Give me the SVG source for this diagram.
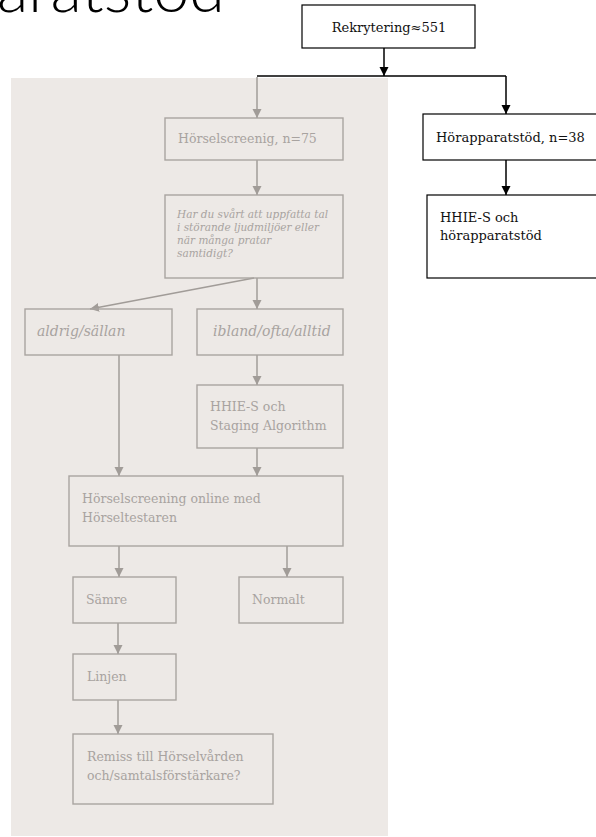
<svg xmlns="http://www.w3.org/2000/svg" width="596" height="837" viewBox="0 0 596 837">
<style>
.bb{fill:#fff;stroke:#000;stroke-width:1.2}
.gb{fill:none;stroke:#a9a4a0;stroke-width:1.4}
.bt{font-family:"DejaVu Serif","Liberation Serif",serif;font-size:13px;fill:#111}
.gt{font-family:"DejaVu Serif","Liberation Serif",serif;font-size:12.5px;fill:#a8a3a0}
.gi{font-family:"DejaVu Serif","Liberation Serif",serif;font-style:italic;fill:#a8a3a0}
.bl{fill:none;stroke:#000;stroke-width:1.5}
.gl{fill:none;stroke:#a19c98;stroke-width:1.5}
</style>
<defs>
<marker id="ab" viewBox="0 0 10 10" refX="10" refY="5" markerUnits="userSpaceOnUse" markerWidth="9" markerHeight="10" orient="auto"><path d="M0,0 L10,5 L0,10 z" fill="#000"/></marker>
<marker id="ag" viewBox="0 0 10 10" refX="10" refY="5" markerUnits="userSpaceOnUse" markerWidth="9" markerHeight="10" orient="auto"><path d="M0,0 L10,5 L0,10 z" fill="#a19c98"/></marker>
</defs>
<rect width="596" height="837" fill="#fff"/>
<text x="-3" y="12" font-family="Lato,'Open Sans',sans-serif" font-weight="300" font-size="64" textLength="228" lengthAdjust="spacingAndGlyphs" fill="#000">aratstöd</text>
<rect id="panel" x="11" y="78" width="377" height="758" fill="#ede9e6"/>
<g id="connectors">
<path class="bl" d="M384,48 V76" marker-end="url(#ab)"/>
<path class="bl" d="M257,76 H506"/>
<path class="bl" d="M506,76 V114" marker-end="url(#ab)"/>
<path class="bl" d="M506,160 V195" marker-end="url(#ab)"/>
<path class="gl" d="M257,77 V118" marker-end="url(#ag)"/>
<path class="gl" d="M257,160 V195" marker-end="url(#ag)"/>
<path class="gl" d="M254,278 L90,309" marker-end="url(#ag)"/>
<path class="gl" d="M257,278 V309" marker-end="url(#ag)"/>
<path class="gl" d="M257,355 V385" marker-end="url(#ag)"/>
<path class="gl" d="M119,355 V476" marker-end="url(#ag)"/>
<path class="gl" d="M257,448 V476" marker-end="url(#ag)"/>
<path class="gl" d="M119,546 V577" marker-end="url(#ag)"/>
<path class="gl" d="M287,546 V577" marker-end="url(#ag)"/>
<path class="gl" d="M118,623 V654" marker-end="url(#ag)"/>
<path class="gl" d="M118,700 V734" marker-end="url(#ag)"/>
</g>
<g id="rekrytering"><rect class="bb" x="302" y="5" width="173" height="43"/><text class="bt" x="389" y="32" text-anchor="middle">Rekrytering≈551</text></g>
<g id="horselscreenig"><rect class="gb" x="165" y="118" width="178" height="42"/><text class="gt" x="178" y="143" font-size="13.5">Hörselscreenig, n=75</text></g>
<g id="fraga"><rect class="gb" x="165" y="195" width="178" height="83"/>
<text class="gi" font-size="10.5"><tspan x="177" y="218">Har du svårt att uppfatta tal</tspan><tspan x="177" y="231">i störande ljudmiljöer eller</tspan><tspan x="177" y="244">när många pratar</tspan><tspan x="177" y="257">samtidigt?</tspan></text></g>
<g id="aldrig"><rect class="gb" x="25" y="309" width="147" height="46"/><text class="gi" font-size="14" x="37" y="336">aldrig/sällan</text></g>
<g id="ibland"><rect class="gb" x="197" y="309" width="146" height="46"/><text class="gi" font-size="14" x="213" y="336">ibland/ofta/alltid</text></g>
<g id="hhie-staging"><rect class="gb" x="197" y="385" width="146" height="63"/><text class="gt" font-size="13"><tspan x="210" y="411">HHIE-S och</tspan><tspan x="210" y="430">Staging Algorithm</tspan></text></g>
<g id="online"><rect class="gb" x="69" y="476" width="274" height="70"/><text class="gt" font-size="12"><tspan x="82" y="503">Hörselscreening online med</tspan><tspan x="82" y="522">Hörseltestaren</tspan></text></g>
<g id="samre"><rect class="gb" x="73" y="577" width="103" height="46"/><text class="gt" x="86" y="604">Sämre</text></g>
<g id="normalt"><rect class="gb" x="239" y="577" width="104" height="46"/><text class="gt" x="252" y="604">Normalt</text></g>
<g id="linjen"><rect class="gb" x="73" y="654" width="103" height="46"/><text class="gt" x="87" y="681">Linjen</text></g>
<g id="remiss"><rect class="gb" x="73" y="734" width="200" height="70"/><text class="gt" font-size="13.5"><tspan x="87" y="761">Remiss till Hörselvården</tspan><tspan x="87" y="780">och/samtalsförstärkare?</tspan></text></g>
<g id="horapparatstod"><rect class="bb" x="423" y="114" width="180" height="46"/><text class="bt" x="436" y="142">Hörapparatstöd, n=38</text></g>
<g id="hhie-hor"><rect class="bb" x="427" y="195" width="176" height="83"/><text class="bt" font-size="13.5"><tspan x="440" y="222">HHIE-S och</tspan><tspan x="440" y="240">hörapparatstöd</tspan></text></g>
</svg>
